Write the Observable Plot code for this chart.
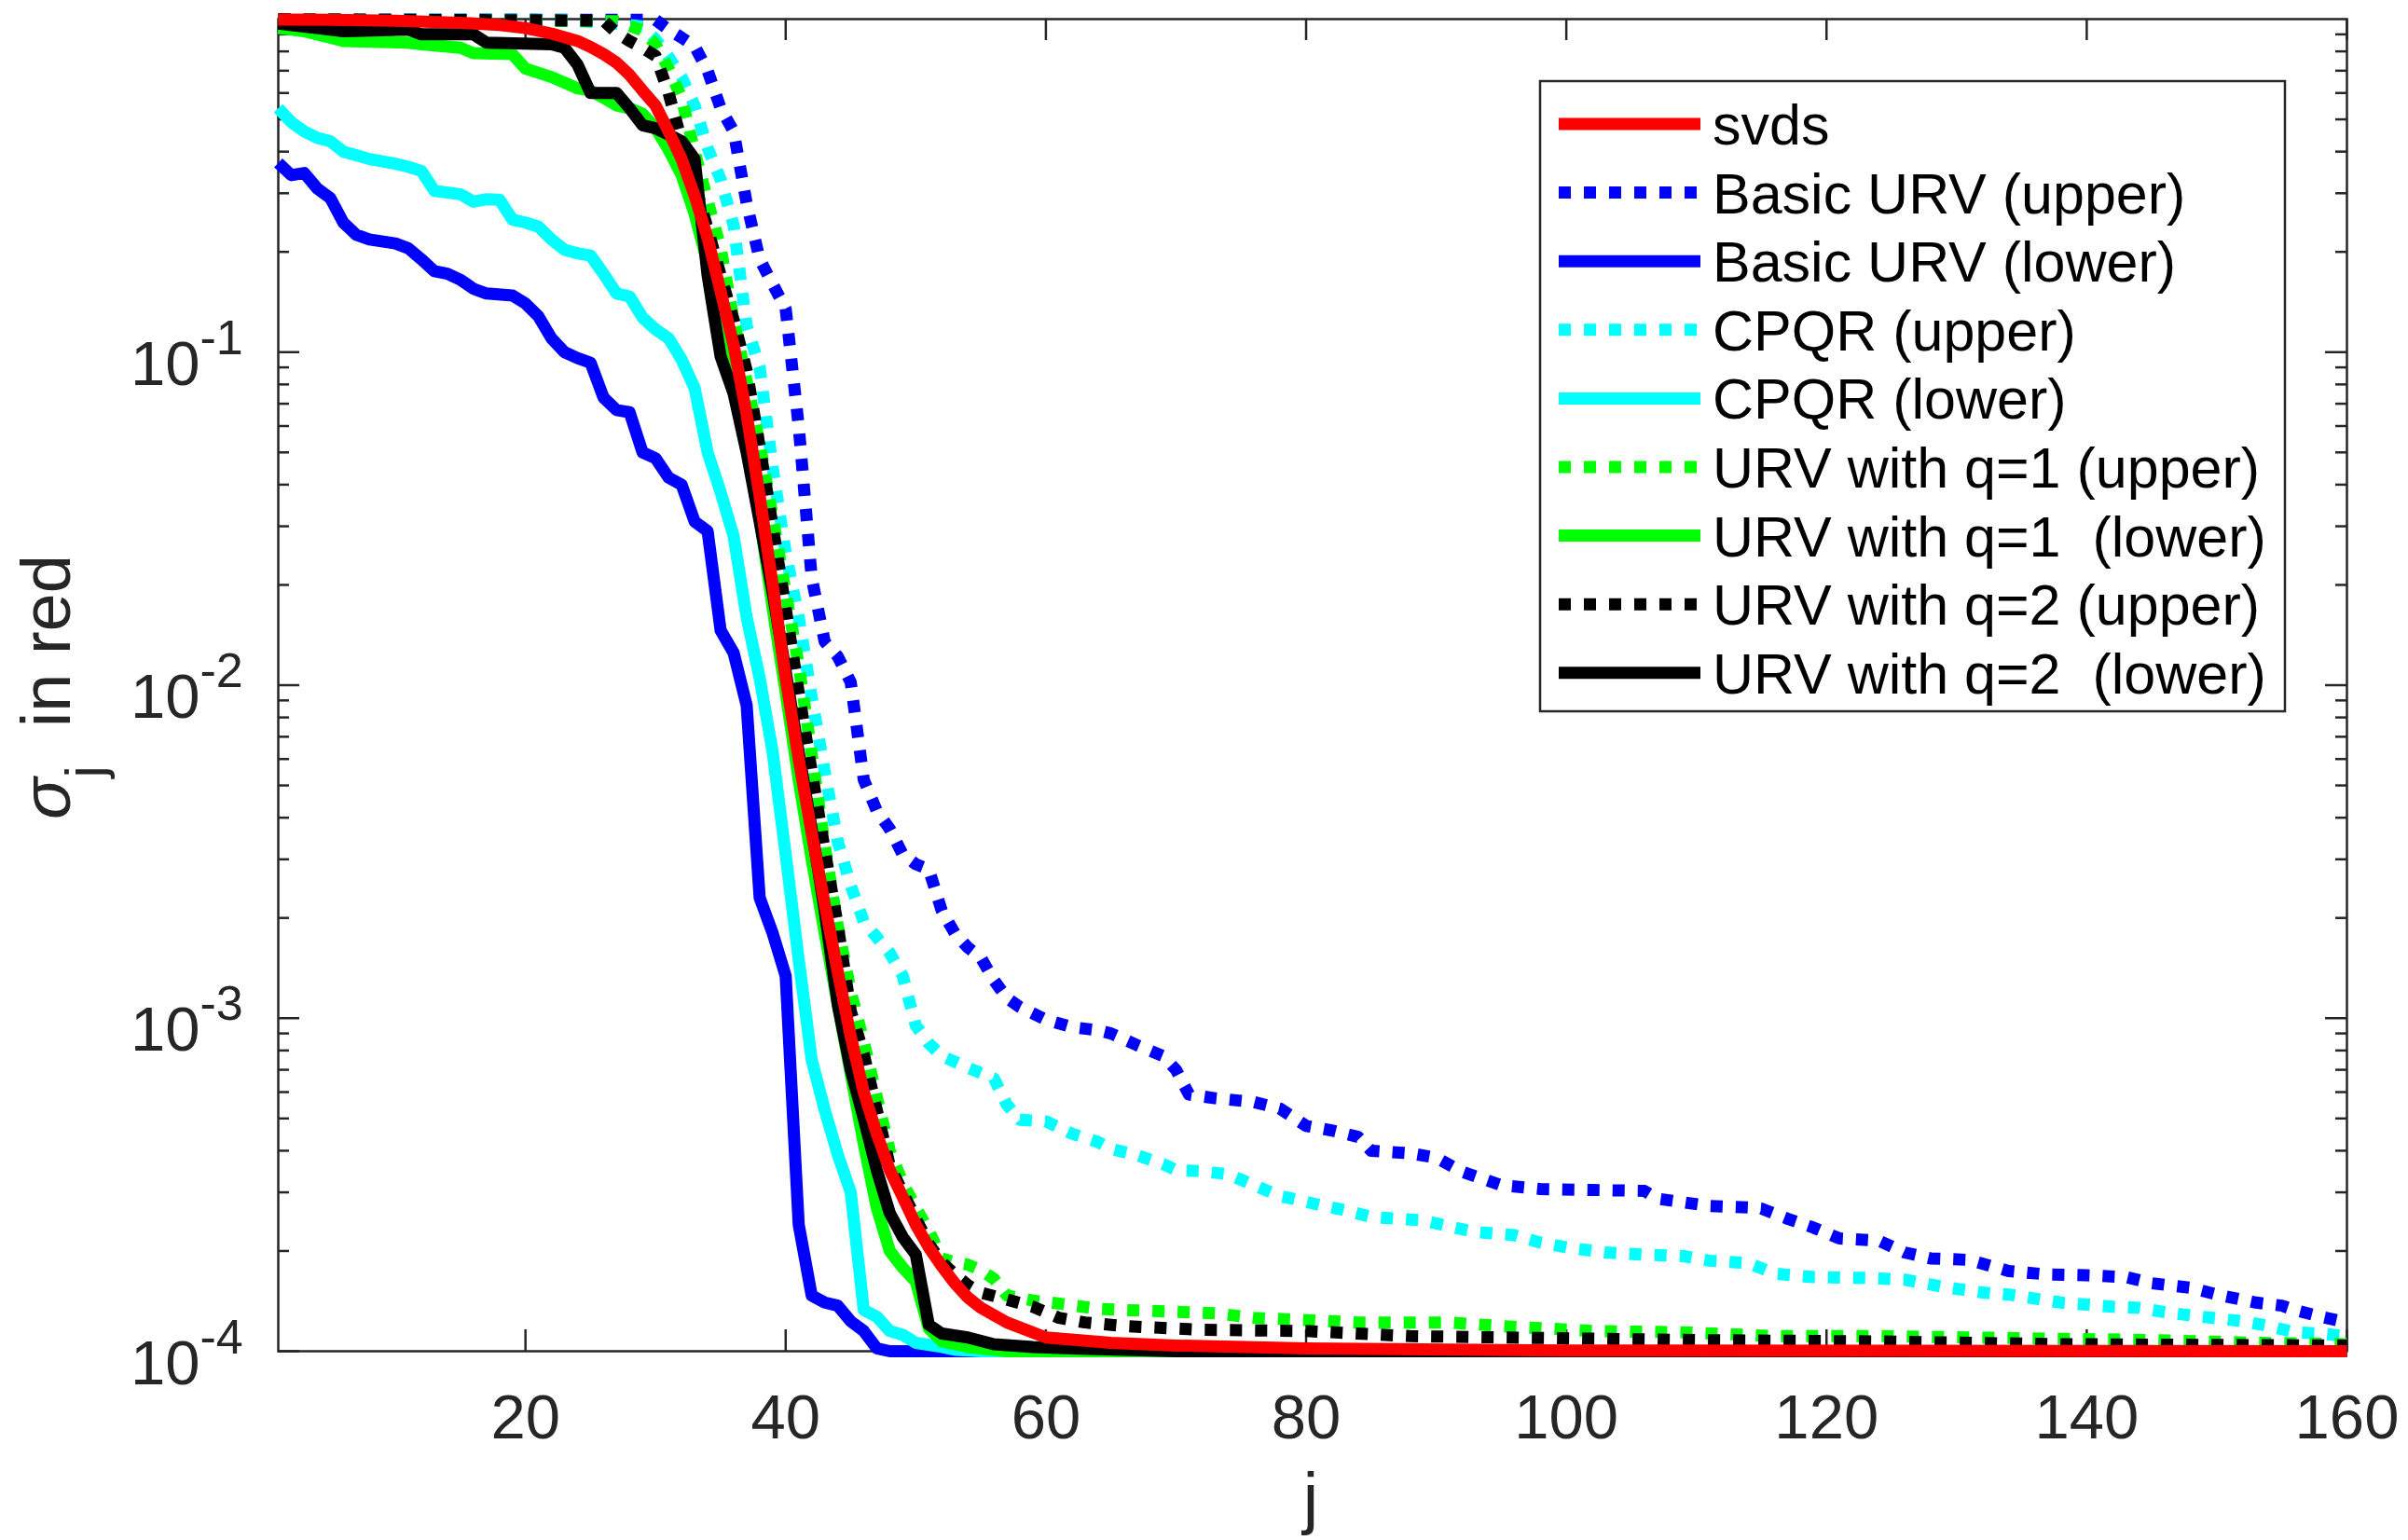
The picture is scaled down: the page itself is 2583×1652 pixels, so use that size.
<!DOCTYPE html>
<html><head><meta charset="utf-8">
<script src="https://cdn.jsdelivr.net/npm/d3@7"></script>
<script src="https://cdn.jsdelivr.net/npm/@observablehq/plot@0.6"></script>
<style>
html,body{margin:0;padding:0;background:#fff;}
#chart{width:2583px;height:1652px;}
</style>
</head><body><div id="chart"></div>
<script>
// ---- data: [j, value] pairs ----
const svds = [[1,0.997],[5,0.995],[10,0.988],[15,0.975],[18,0.96],[20,0.94],[22,0.905],[24,0.86],[25,0.825],[26,0.785],[27,0.74],[28,0.68],[29,0.61],[30,0.55],[31,0.46],[32,0.38],[33,0.295],[34,0.22],[35,0.152],[36,0.105],[37,0.065],[38,0.037],[39,0.02],[40,0.0105],[41,0.006],[42,0.0036],[43,0.0022],[44,0.00138],[45,0.00088],[46,0.0006],[47,0.00045],[48,0.00035],[49,0.00029],[50,0.00024],[51,0.000205],[52,0.00018],[53,0.00016],[54,0.000145],[55,0.000135],[57,0.000122],[60,0.00011],[65,0.000106],[70,0.000104],[80,0.000102],[100,0.0001005],[160,0.0001]];

const basicUpper = [[1,0.998],[30,0.995],[31,0.93],[32,0.88],[33,0.83],[34,0.7],[35,0.54],[36,0.46],[37,0.28],[38,0.19],[39,0.16],[40,0.135],[41,0.06],[42,0.021],[43,0.0135],[44,0.0122],[45,0.0102],[46,0.0052],[47,0.0042],[48,0.0037],[49,0.0031],[50,0.0029],[51,0.0028],[52,0.0021],[53,0.0018],[54,0.00163],[55,0.00152],[56,0.0013],[57,0.00115],[58,0.00108],[60,0.00099],[62,0.00094],[64,0.00092],[65,0.0009],[67,0.00083],[69,0.00077],[70,0.0007],[71,0.00059],[73,0.000575],[76,0.00056],[78,0.000535],[80,0.000475],[82,0.00046],[84,0.00044],[85,0.0004],[88,0.000393],[90,0.000381],[92,0.000346],[95,0.000315],[98,0.000307],[102,0.000305],[106,0.000303],[107,0.000287],[109,0.00028],[111,0.000273],[114,0.00027],[115,0.000268],[117,0.00025],[119,0.000235],[121,0.000218],[124,0.000215],[126,0.000198],[128,0.00019],[131,0.000188],[134,0.000174],[137,0.00017],[140,0.000169],[143,0.000167],[145,0.00016],[148,0.000155],[150,0.000148],[153,0.00014],[155,0.000137],[156,0.000133],[158,0.000127],[160,0.000122]];

const basicLower = [[1,0.37],[2,0.34],[3,0.345],[4,0.31],[5,0.29],[6,0.245],[7,0.225],[8,0.218],[10,0.212],[11,0.205],[12,0.19],[13,0.175],[14,0.172],[15,0.165],[16,0.155],[17,0.15],[19,0.148],[20,0.14],[21,0.128],[22,0.11],[23,0.1],[24,0.096],[25,0.093],[26,0.073],[27,0.067],[28,0.066],[29,0.05],[30,0.048],[31,0.042],[32,0.04],[33,0.031],[34,0.029],[35,0.0146],[36,0.0125],[37,0.0087],[38,0.0023],[39,0.0018],[40,0.00134],[41,0.00024],[42,0.000147],[43,0.00014],[44,0.000137],[45,0.000123],[46,0.000115],[47,0.000102],[48,0.0001],[160,0.0001]];

const cpqrUpper = [[1,0.998],[23,0.995],[26,0.975],[28,0.96],[29,0.95],[30,0.87],[31,0.77],[32,0.67],[33,0.55],[34,0.41],[35,0.33],[36,0.24],[37,0.12],[38,0.09],[39,0.045],[40,0.025],[41,0.016],[42,0.0092],[43,0.0055],[44,0.0034],[45,0.0025],[46,0.00195],[47,0.00175],[48,0.00157],[49,0.00134],[50,0.00095],[51,0.00084],[52,0.00077],[53,0.00074],[54,0.00071],[56,0.00066],[57,0.00055],[58,0.000495],[60,0.00049],[62,0.00045],[64,0.000425],[65,0.000405],[67,0.000388],[69,0.000365],[70,0.00035],[72,0.000347],[74,0.00034],[76,0.000315],[78,0.000292],[79,0.000287],[81,0.000275],[83,0.000265],[85,0.000253],[87,0.00025],[89,0.000247],[91,0.000237],[93,0.000228],[95,0.000225],[96,0.000223],[98,0.000212],[100,0.000205],[103,0.000198],[106,0.000195],[109,0.000193],[111,0.000187],[114,0.000184],[116,0.000171],[119,0.000167],[123,0.000166],[126,0.000164],[129,0.000156],[132,0.00015],[134,0.000148],[138,0.00014],[142,0.000136],[144,0.000135],[146,0.000131],[148,0.000128],[152,0.000123],[154,0.000119],[156,0.000114],[158,0.000113],[160,0.000111]];

const cpqrLower = [[1,0.54],[2,0.49],[3,0.46],[4,0.44],[5,0.43],[6,0.4],[7,0.39],[8,0.38],[10,0.368],[11,0.36],[12,0.35],[13,0.305],[15,0.298],[16,0.283],[17,0.288],[18,0.287],[19,0.25],[20,0.245],[21,0.238],[22,0.218],[23,0.203],[24,0.198],[25,0.195],[26,0.172],[27,0.15],[28,0.147],[29,0.127],[30,0.117],[31,0.11],[32,0.095],[33,0.078],[34,0.05],[35,0.038],[36,0.028],[37,0.016],[38,0.0105],[39,0.0063],[40,0.0031],[41,0.0015],[42,0.00075],[43,0.00053],[44,0.00039],[45,0.0003],[46,0.000133],[47,0.000127],[48,0.000115],[49,0.000112],[50,0.000106],[52,0.000103],[53,0.000101],[55,0.0001],[160,0.0001]];

const q1Upper = [[1,0.998],[27,0.985],[28,0.955],[29,0.925],[30,0.84],[31,0.71],[32,0.58],[33,0.4],[34,0.285],[35,0.205],[36,0.125],[37,0.082],[38,0.053],[39,0.032],[40,0.019],[41,0.0115],[42,0.0062],[43,0.0033],[44,0.0019],[45,0.0012],[46,0.00085],[47,0.00058],[48,0.0004],[49,0.00032],[50,0.00027],[51,0.00023],[52,0.00019],[53,0.000185],[54,0.000182],[55,0.000175],[56,0.000165],[57,0.000147],[59,0.000142],[61,0.000139],[64,0.000134],[66,0.000133],[73,0.00013],[76,0.000126],[84,0.000122],[91,0.000122],[95,0.000119],[102,0.000115],[109,0.000114],[116,0.000111],[124,0.000111],[131,0.00011],[138,0.000109],[145,0.000108],[153,0.000106],[160,0.000105]];

const q1Lower = [[1,0.94],[2,0.93],[3,0.92],[4,0.9],[5,0.88],[6,0.86],[11,0.85],[12,0.84],[15,0.82],[16,0.79],[19,0.785],[20,0.71],[21,0.69],[22,0.67],[24,0.62],[25,0.61],[26,0.58],[27,0.55],[28,0.54],[29,0.52],[30,0.47],[31,0.405],[32,0.34],[33,0.26],[34,0.185],[35,0.132],[36,0.092],[37,0.058],[38,0.032],[39,0.017],[40,0.0095],[41,0.0052],[42,0.003],[43,0.0018],[44,0.0011],[45,0.00068],[46,0.00042],[47,0.00027],[48,0.0002],[49,0.000178],[50,0.000162],[51,0.000117],[52,0.000107],[54,0.000103],[57,0.0001],[160,0.0001]];

const q2Upper = [[1,0.998],[26,0.99],[27,0.91],[28,0.86],[29,0.82],[30,0.775],[31,0.6],[32,0.43],[33,0.32],[34,0.235],[35,0.17],[36,0.125],[37,0.088],[38,0.052],[39,0.03],[40,0.017],[41,0.0095],[42,0.0055],[43,0.0032],[44,0.0019],[45,0.00105],[46,0.00078],[47,0.00053],[48,0.00036],[49,0.0003],[50,0.00025],[51,0.00021],[52,0.000185],[53,0.00017],[54,0.000158],[55,0.00015],[57,0.000143],[59,0.000136],[61,0.000126],[63,0.000122],[66,0.000119],[72,0.000116],[80,0.000115],[88,0.000111],[95,0.00011],[110,0.000108],[124,0.000107],[138,0.000105],[160,0.000104]];

const q2Lower = [[1,0.97],[3,0.95],[5,0.93],[6,0.92],[11,0.93],[12,0.9],[16,0.9],[17,0.85],[22,0.84],[23,0.82],[24,0.73],[25,0.6],[27,0.6],[28,0.54],[29,0.48],[30,0.47],[31,0.45],[32,0.43],[33,0.38],[34,0.17],[35,0.097],[36,0.075],[37,0.05],[38,0.031],[39,0.019],[40,0.011],[41,0.0063],[42,0.0037],[43,0.0021],[44,0.0011],[45,0.0007],[46,0.0005],[47,0.00035],[48,0.00026],[49,0.00022],[50,0.000195],[51,0.00012],[52,0.000113],[54,0.00011],[56,0.000105],[59,0.000103],[62,0.000102],[70,0.0001],[160,0.0001]];

const legendLabels = ["svds","Basic URV (upper)","Basic URV (lower)","CPQR (upper)","CPQR (lower)","URV with q=1 (upper)","URV with q=1  (lower)","URV with q=2 (upper)","URV with q=2  (lower)"];
const legendColors = ["#ff0000","#0000ff","#0000ff","#00ffff","#00ffff","#00ff00","#00ff00","#000000","#000000"];
const legendDotted = [false,true,false,true,false,true,false,true,false];
const legendData = [svds,basicUpper,basicLower,cpqrUpper,cpqrLower,q1Upper,q1Lower,q2Upper,q2Lower];
const drawOrder = [1,2,3,4,5,6,7,8,0];

const xTicks = [20,40,60,80,100,120,140,160];
const yTicks = [1e-1,1e-2,1e-3,1e-4];
const yTickExp = ["-1","-2","-3","-4"];
const yMinor = [2e-4,3e-4,4e-4,5e-4,6e-4,7e-4,8e-4,9e-4,2e-3,3e-3,4e-3,5e-3,6e-3,7e-3,8e-3,9e-3,2e-2,3e-2,4e-2,5e-2,6e-2,7e-2,8e-2,9e-2,0.2,0.3,0.4,0.5,0.6,0.7,0.8,0.9];

// ---- layout ----
const W = 2583, H = 1652;
const mL = 298, mR = 66, mT = 20, mB = 203;
const fw = W - mL - mR, fh = H - mT - mB;
const axisColor = "#262626";
const font = "'Liberation Sans', Arial, Helvetica, sans-serif";
const LW = 13, DASH = "13 14";

const marks = [];
marks.push(Plot.frame({stroke: axisColor, strokeWidth: 2.5}));
// ticks (inward, on all four sides)
marks.push(Plot.tickX(xTicks, {x: d => d, insetTop: fh - 23, stroke: axisColor, strokeWidth: 2.5}));
marks.push(Plot.tickX(xTicks, {x: d => d, insetBottom: fh - 23, stroke: axisColor, strokeWidth: 2.5}));
marks.push(Plot.tickY(yTicks, {y: d => d, insetRight: fw - 23, stroke: axisColor, strokeWidth: 2.5}));
marks.push(Plot.tickY(yTicks, {y: d => d, insetLeft: fw - 23, stroke: axisColor, strokeWidth: 2.5}));
marks.push(Plot.tickY(yMinor, {y: d => d, insetRight: fw - 12, stroke: axisColor, strokeWidth: 2.5}));
marks.push(Plot.tickY(yMinor, {y: d => d, insetLeft: fw - 12, stroke: axisColor, strokeWidth: 2.5}));

for (const i of drawOrder) {
  marks.push(Plot.line(legendData[i], {
    x: d => d[0], y: d => d[1],
    stroke: legendColors[i], strokeWidth: LW,
    strokeDasharray: legendDotted[i] ? DASH : null,
    strokeLinecap: "butt", strokeLinejoin: "round"
  }));
}

// tick labels
marks.push(Plot.text(xTicks, {x: d => d, frameAnchor: "bottom", lineAnchor: "bottom", dy: 93, text: d => String(d), fontSize: 67, fill: axisColor}));
marks.push(Plot.text(yTicks, {y: d => d, frameAnchor: "left", textAnchor: "end", lineAnchor: "bottom", dx: -84, dy: 35, text: () => "10", fontSize: 67, fill: axisColor}));
marks.push(Plot.text(yTicks, {y: d => d, frameAnchor: "left", textAnchor: "start", lineAnchor: "bottom", dx: -84, dy: 2, text: (d, i) => yTickExp[i], fontSize: 52, fill: axisColor}));
// x label
marks.push(Plot.text(["j"], {frameAnchor: "bottom", lineAnchor: "bottom", dy: 182, dx: -2, text: d => d, fontSize: 74, fill: axisColor}));

const chart = Plot.plot({
  width: W, height: H,
  marginLeft: mL, marginRight: mR, marginTop: mT, marginBottom: mB,
  x: {type: "linear", domain: [1, 160], axis: null},
  y: {type: "log", domain: [1e-4, 1], axis: null},
  style: {fontFamily: font, background: "#fff", overflow: "visible"},
  marks
});
document.getElementById("chart").appendChild(chart);

const svg = d3.select(chart);
// y label: sigma_j  in red
const yl = svg.append("text")
  .attr("transform", "translate(75,737) rotate(-90)")
  .attr("text-anchor", "middle")
  .attr("fill", axisColor)
  .style("font-family", font)
  .style("font-size", "74px")
  .style("white-space", "pre");
yl.append("tspan").style("font-style", "italic").text("\u03C3");
yl.append("tspan").attr("dy", 36).style("font-size", "58px").text("j");
yl.append("tspan").attr("dy", -36).text("  in red");

// legend
const lg = svg.append("g").attr("text-anchor", "start");
lg.append("rect").attr("x", 1652).attr("y", 87).attr("width", 799).attr("height", 676)
  .attr("fill", "#fff").attr("stroke", axisColor).attr("stroke-width", 2.5);
legendLabels.forEach((lab, i) => {
  const yy = 133 + 73.6 * i;
  lg.append("line").attr("x1", 1672).attr("x2", 1824).attr("y1", yy).attr("y2", yy)
    .attr("stroke", legendColors[i]).attr("stroke-width", LW)
    .attr("stroke-dasharray", legendDotted[i] ? DASH : null)
    .attr("stroke-linecap", "butt");
  lg.append("text").attr("x", 1837).attr("y", yy + 22)
    .attr("text-anchor", "start")
    .attr("fill", "#000")
    .style("font-family", font).style("font-size", "61px").style("white-space", "pre")
    .text(lab);
});
</script>
</body></html>
